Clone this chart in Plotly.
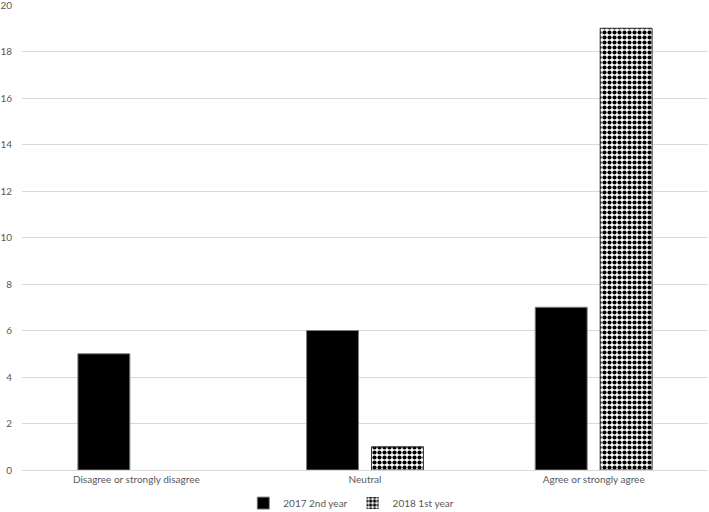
import plotly.graph_objects as go

categories = ["Disagree or strongly disagree", "Neutral", "Agree or strongly agree"]
series_2017 = [5, 6, 7]
series_2018 = [0, 1, 19]
name_2017 = "2017 2nd year"
name_2018 = "2018 1st year"
y_ticks = list(range(0, 21, 2))

fig = go.Figure()
fig.add_trace(go.Bar(
    x=categories, y=series_2017, name=name_2017,
    marker=dict(color="#000000", line=dict(color="#7f7f7f", width=1)),
))
fig.add_trace(go.Bar(
    x=categories, y=series_2018, name=name_2018,
    marker=dict(color="#ffffff",
                line=dict(color="#333333", width=[0 if v == 0 else 1 for v in series_2018]),
                pattern=dict(shape=".", fgcolor="#000000", bgcolor="#ffffff",
                             size=5, solidity=0.55, fillmode="replace")),
))

fig.update_layout(
    width=709, height=512,
    margin=dict(l=22, r=1, t=5, b=42, autoexpand=False),
    paper_bgcolor="white", plot_bgcolor="white",
    barmode="group", bargap=0.432, bargroupgap=0.2,
    font=dict(family="Lato, 'Open Sans', sans-serif", size=10, color="#595959"),
    showlegend=True,
    legend=dict(orientation="h", x=0.48, xanchor="center", y=-0.04, yanchor="top",
                font=dict(size=10, color="#595959"), itemwidth=30,
                traceorder="normal"),
    xaxis=dict(showgrid=False, showline=True, linecolor="#d9d9d9", linewidth=1,
               ticks="", automargin=False, tickfont=dict(size=10, color="#595959")),
    yaxis=dict(range=[0, 20], tickvals=y_ticks, showgrid=True, gridcolor="#d9d9d9",
               gridwidth=1, zeroline=False, showline=False, ticks="", automargin=False,
               ticklabelstandoff=9, ticklabeloverflow="allow",
               tickfont=dict(size=10, color="#595959")),
)

fig.write_html("out.html", config={"displayModeBar": False},
               post_script="document.body.style.margin='0';")
